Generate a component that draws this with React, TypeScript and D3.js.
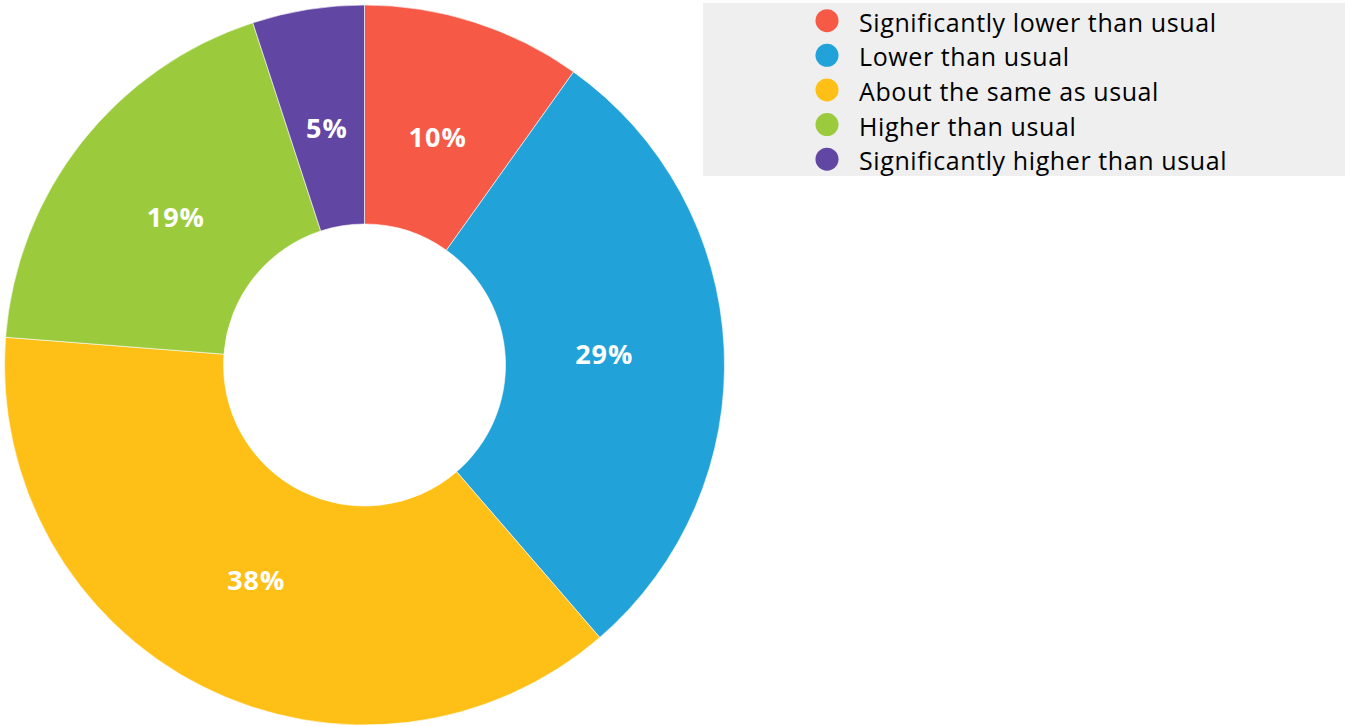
import React from "react";
import * as d3 from "d3";

const categories = [
  "Significantly lower than usual",
  "Lower than usual",
  "About the same as usual",
  "Higher than usual",
  "Significantly higher than usual",
];
const values = [9.86, 28.8, 37.56, 18.75, 5.02];
const colors = ["#F65A47", "#21A2D9", "#FEC016", "#9BCB3D", "#6146A3"];

const W = 1345;
const H = 726;

export default function App() {
  const cx = 364.5;
  const cy = 365;
  const outerR = 360;
  const innerR = 141;
  const labelR = 240;

  const data = categories.map((c, i) => ({ name: c, value: values[i], color: colors[i] }));
  const pie = d3
    .pie<any>()
    .sort(null)
    .value((d: any) => d.value)
    .startAngle(0)
    .endAngle(2 * Math.PI);
  const arcs = pie(data);
  const arcGen = d3.arc<any>().innerRadius(innerR).outerRadius(outerR);
  const labelArc = d3.arc<any>().innerRadius(labelR).outerRadius(labelR);

  const legendX = 703;
  const legendY = 3;
  const legendW = W - legendX;
  const legendH = 173;
  const rowY = d3.scalePoint<string>().domain(categories).range([20.7, 159.2]);

  return (
    <svg
      width={W}
      height={H}
      style={{ position: "absolute", left: 0, top: 0, background: "#fff" }}
    >
      <g transform={`translate(${cx},${cy})`}>
        {arcs.map((a, i) => (
          <path key={i} d={arcGen(a) || ""} fill={a.data.color} stroke="#ffffff" strokeWidth={0.6} />
        ))}
        {arcs.map((a, i) => {
          const [x, y] = labelArc.centroid(a);
          return (
            <text
              key={"l" + i}
              x={x}
              y={y}
              textAnchor="middle"
              dominantBaseline="central"
              fill="#ffffff"
              fontFamily="'Open Sans', sans-serif"
              fontWeight={700}
              fontSize={27}
              letterSpacing={1}
            >
              {Math.round(a.data.value)}%
            </text>
          );
        })}
      </g>
      <rect x={legendX} y={legendY} width={legendW} height={legendH} fill="#efefef" />
      {categories.map((c, i) => (
        <g key={"lg" + i}>
          <circle cx={827} cy={rowY(c)} r={11.5} fill={colors[i]} />
          <text
            x={859}
            y={(rowY(c) as number) + 11}
            fontFamily="'Open Sans', sans-serif"
            fontSize={25}
            fontWeight={500}
            letterSpacing={0.6}
            fill="#000000"
          >
            {c}
          </text>
        </g>
      ))}
    </svg>
  );
}
